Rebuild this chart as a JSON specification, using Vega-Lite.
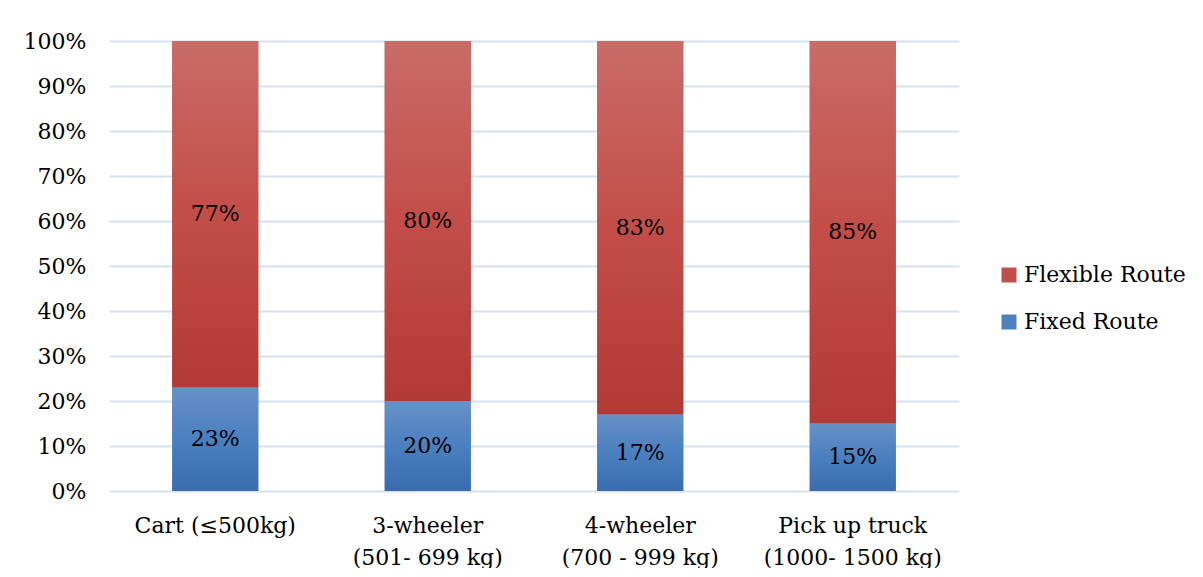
{
  "$schema": "https://vega.github.io/schema/vega-lite/v6.json",
  "width": 850,
  "height": 450,
  "padding": {"left": 23, "top": 30, "right": 0, "bottom": 0},
  "background": "white",
  "config": {
    "font": "DejaVu Serif",
    "view": {"stroke": null},
    "axis": {"labelFont": "DejaVu Serif", "labelColor": "#000000", "labelFontSize": 22}
  },
  "data": {
    "values": [
      {"vehicle": "Cart (≤500kg)", "route": "Flexible Route", "share": 0.77, "ord": 2},
      {"vehicle": "Cart (≤500kg)", "route": "Fixed Route", "share": 0.23, "ord": 1},
      {"vehicle": "3-wheeler|(501- 699 kg)", "route": "Flexible Route", "share": 0.80, "ord": 2},
      {"vehicle": "3-wheeler|(501- 699 kg)", "route": "Fixed Route", "share": 0.20, "ord": 1},
      {"vehicle": "4-wheeler|(700 - 999 kg)", "route": "Flexible Route", "share": 0.83, "ord": 2},
      {"vehicle": "4-wheeler|(700 - 999 kg)", "route": "Fixed Route", "share": 0.17, "ord": 1},
      {"vehicle": "Pick up truck|(1000- 1500 kg)", "route": "Flexible Route", "share": 0.85, "ord": 2},
      {"vehicle": "Pick up truck|(1000- 1500 kg)", "route": "Fixed Route", "share": 0.15, "ord": 1}
    ]
  },
  "transform": [
    {"stack": "share", "groupby": ["vehicle"], "sort": [{"field": "ord", "order": "ascending"}], "as": ["lo", "hi"]},
    {"calculate": "(datum.lo + datum.hi) / 2", "as": "mid"}
  ],
  "encoding": {
    "x": {
      "field": "vehicle",
      "type": "nominal",
      "sort": null,
      "scale": {"paddingInner": 0.595, "paddingOuter": 0.2975},
      "axis": {
        "title": null,
        "labelAngle": 0,
        "domain": false,
        "ticks": false,
        "labelPadding": 24,
        "labelLineHeight": 32,
        "labelExpr": "split(datum.label, '|')"
      }
    }
  },
  "layer": [
    {
      "mark": {"type": "bar"},
      "encoding": {
        "y": {
          "field": "lo",
          "type": "quantitative",
          "scale": {"domain": [0, 1]},
          "axis": {
            "title": null,
            "format": ".0%",
            "values": [0, 0.1, 0.2, 0.3, 0.4, 0.5, 0.6, 0.7, 0.8, 0.9, 1.0],
            "domain": false,
            "ticks": false,
            "labelPadding": 23,
            "grid": true,
            "gridColor": "#d6e2f2",
            "gridWidth": 2
          }
        },
        "y2": {"field": "hi"},
        "color": {
          "field": "route",
          "type": "nominal",
          "scale": {
            "domain": ["Flexible Route", "Fixed Route"],
            "range": ["#c0504d", "#4f81bd"]
          },
          "legend": {
            "title": null,
            "orient": "none",
            "legendX": 889,
            "legendY": 223,
            "symbolType": "square",
            "symbolSize": 225,
            "symbolStrokeWidth": 0,
            "symbolOpacity": 1,
            "labelFontSize": 22,
            "labelFont": "DejaVu Serif",
            "labelColor": "#000000",
            "labelOffset": 4,
            "rowPadding": 25,
            "labelLimit": 300
          }
        }
      }
    },
    {
      "mark": {"type": "bar"},
      "encoding": {
        "y": {"field": "lo", "type": "quantitative"},
        "y2": {"field": "hi"},
        "color": {
          "condition": {
            "test": "datum.route === 'Fixed Route'",
            "value": {"gradient": "linear", "x1": 0, "y1": 0, "x2": 0, "y2": 1, "stops": [{"offset": 0, "color": "#6791c7"}, {"offset": 0.5, "color": "#4a7fc0"}, {"offset": 1, "color": "#396cae"}]}
          },
          "value": {"gradient": "linear", "x1": 0, "y1": 0, "x2": 0, "y2": 1, "stops": [{"offset": 0, "color": "#c96c68"}, {"offset": 0.5, "color": "#c34d48"}, {"offset": 1, "color": "#b23a35"}]}
        }
      }
    },
    {
      "mark": {"type": "text", "fontSize": 22, "font": "DejaVu Serif", "color": "#000000", "baseline": "middle"},
      "encoding": {
        "y": {"field": "mid", "type": "quantitative"},
        "text": {"field": "share", "type": "quantitative", "format": ".0%"}
      }
    }
  ]
}
